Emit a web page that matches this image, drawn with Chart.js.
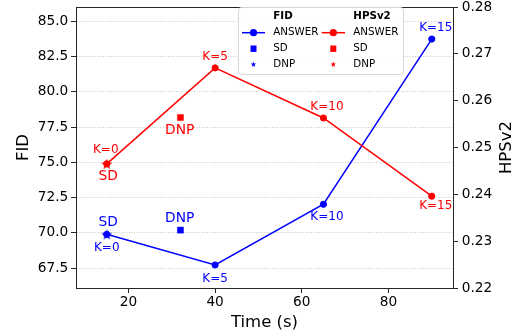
<!DOCTYPE html>
<html><head><meta charset="utf-8">
<script src="https://cdn.jsdelivr.net/npm/chart.js@4/dist/chart.umd.min.js"></script>
<style>html,body{margin:0;padding:0;background:#fff}</style>
</head><body>
<canvas id="c" width="526" height="336" style="width:526px;height:336px;display:block"></canvas>
<script>
// ---- data ----
const times = [15, 40, 65, 90];
const kLabels = ['K=0', 'K=5', 'K=10', 'K=15'];
const fidAnswer = [69.9, 67.73, 72.03, 83.73];
const hpsAnswer = [0.2465, 0.2670, 0.2563, 0.2396];
const sdTime = 15;
const fidSD = 69.9;
const hpsSD = 0.2465;
const dnpTime = 32;
const fidDNP = 70.2;
const hpsDNP = 0.2564;
const xTicks = [20, 40, 60, 80];
const fidTicks = [67.5, 70, 72.5, 75, 77.5, 80, 82.5, 85];
const hpsTicks = [0.22, 0.23, 0.24, 0.25, 0.26, 0.27, 0.28];
const legendHeaders = ['FID', 'HPSv2'];
const legendLabels = ['ANSWER', 'SD', 'DNP'];
const xTitle = 'Time (s)';
const yTitle = 'FID';
const y1Title = 'HPSv2';

// ---- styles ----
const FONT = 'DejaVu Sans';
const BLUE = '#0000ff', RED = '#ff0000';
const SPINE = '#262626';

function drawStar(g, cx, cy, R, color) {
  g.fillStyle = color; g.beginPath();
  for (let i = 0; i < 10; i++) {
    const r = i % 2 ? R * 0.382 : R;
    const a = -Math.PI / 2 + i * Math.PI / 5;
    g.lineTo(cx + r * Math.cos(a), cy + r * Math.sin(a));
  }
  g.closePath(); g.fill();
}
function starCanvas(R, color) {
  const s = Math.ceil(2 * R + 2);
  const c = document.createElement('canvas');
  c.width = s; c.height = s;
  drawStar(c.getContext('2d'), s / 2, s / 2 + R * 0.1, R, color);
  return c;
}

const pts = (xs, ys) => ys.map((v, i) => ({x: xs[i], y: v}));

const annot = {
  fid: {color: BLUE, dx: [0, 0, 3.5, 4], dy: [14, 13.7, 13, -11], sd: [1.3, -12.3], dnp: [-0.7, -11.7]},
  hps: {color: RED, dx: [-1, 0, 3.5, 4], dy: [-14, -11, -11, 10], sd: [1.3, 12.7], dnp: [-0.7, 13.3]}
};

const overlay = {
  id: 'overlay',
  afterDatasetsDraw(chart) {
    const g = chart.ctx, xs = chart.scales.x;
    g.save();
    g.textAlign = 'center'; g.textBaseline = 'middle';
    [['fid', chart.scales.y, fidAnswer, fidSD, fidDNP], ['hps', chart.scales.y1, hpsAnswer, hpsSD, hpsDNP]].forEach(([k, ys, vals, sd, dnp]) => {
      const st = annot[k];
      g.fillStyle = st.color;
      g.font = '12px "' + FONT + '"';
      vals.forEach((v, i) => {
        g.fillText(kLabels[i], xs.getPixelForValue(times[i]) + st.dx[i], ys.getPixelForValue(v) + st.dy[i]);
      });
      g.font = '13.8px "' + FONT + '"';
      g.fillText(legendLabels[1], xs.getPixelForValue(sdTime) + st.sd[0], ys.getPixelForValue(sd) + st.sd[1]);
      g.fillText(legendLabels[2], xs.getPixelForValue(dnpTime) + st.dnp[0], ys.getPixelForValue(dnp) + st.dnp[1]);
    });
    g.restore();
  },
  afterDraw(chart) {
    const g = chart.ctx, a = chart.chartArea;
    g.save();
    // top spine
    g.strokeStyle = SPINE; g.lineWidth = 1;
    g.beginPath(); g.moveTo(a.left, Math.round(a.top) + 0.5); g.lineTo(a.right, Math.round(a.top) + 0.5); g.stroke();
    // right axis title (bottom-to-top)
    g.fillStyle = '#000'; g.font = '16.5px "' + FONT + '"';
    g.textAlign = 'center'; g.textBaseline = 'middle';
    g.translate(507, (a.top + a.bottom) / 2); g.rotate(-Math.PI / 2);
    g.fillText(y1Title, 0, 0);
    g.restore();
    // legend
    g.save();
    const bx = 238.5, by = 7.5, bw = 165, bh = 67, r = 3;
    g.beginPath();
    g.moveTo(bx + r, by); g.lineTo(bx + bw - r, by); g.quadraticCurveTo(bx + bw, by, bx + bw, by + r);
    g.lineTo(bx + bw, by + bh - r); g.quadraticCurveTo(bx + bw, by + bh, bx + bw - r, by + bh);
    g.lineTo(bx + r, by + bh); g.quadraticCurveTo(bx, by + bh, bx, by + bh - r);
    g.lineTo(bx, by + r); g.quadraticCurveTo(bx, by, bx + r, by); g.closePath();
    g.fillStyle = 'rgba(255,255,255,0.85)'; g.fill();
    g.strokeStyle = '#d6d6d6'; g.lineWidth = 1; g.stroke();
    const cols = [{h0: 242, h1: 265, m: 253.5, t: 273.3, color: BLUE}, {h0: 321.7, h1: 345, m: 333.3, t: 353.3, color: RED}];
    const rows = [32.7, 48.7, 64.2];
    g.textBaseline = 'middle'; g.textAlign = 'left';
    cols.forEach((c, ci) => {
      g.fillStyle = '#000';
      g.font = 'bold 10.3px "' + FONT + '"';
      g.fillText(legendHeaders[ci], c.t, 16.5);
      g.font = '10.3px "' + FONT + '"';
      legendLabels.forEach((lab, ri) => { g.fillStyle = '#000'; g.fillText(lab, c.t, rows[ri]); });
      // ANSWER handle
      g.strokeStyle = c.color; g.lineWidth = 1.5;
      g.beginPath(); g.moveTo(c.h0, rows[0]); g.lineTo(c.h1, rows[0]); g.stroke();
      g.fillStyle = c.color;
      g.beginPath(); g.arc(c.m, rows[0], 3.6, 0, Math.PI * 2); g.fill();
      // SD square
      g.fillRect(c.m - 3, rows[1] - 3.2, 6, 6.4);
      // DNP star
      drawStar(g, c.m, rows[2] + 0.3, 3, c.color);
    });
    g.restore();
  }
};

const tickFont = {family: FONT, size: 13.7};
const ctx = document.getElementById('c').getContext('2d');
new Chart(ctx, {
  type: 'line',
  data: {
    datasets: [
      {data: pts([sdTime], [fidSD]), yAxisID: 'y', showLine: false, pointStyle: starCanvas(5.9, BLUE), pointRadius: 5},
      {data: pts([sdTime], [hpsSD]), yAxisID: 'y1', showLine: false, pointStyle: starCanvas(5.9, RED), pointRadius: 5},
      {data: pts([dnpTime], [fidDNP]), yAxisID: 'y', showLine: false, pointStyle: 'rect', pointRadius: 4.3, pointBorderWidth: 0.5, backgroundColor: BLUE, borderColor: BLUE},
      {data: pts([dnpTime], [hpsDNP]), yAxisID: 'y1', showLine: false, pointStyle: 'rect', pointRadius: 4.3, pointBorderWidth: 0.5, backgroundColor: RED, borderColor: RED},
      {data: pts(times, hpsAnswer), yAxisID: 'y1', borderColor: RED, backgroundColor: RED, borderWidth: 1.5, tension: 0, fill: false, pointRadius: 3.1, pointBorderWidth: 1},
      {data: pts(times, fidAnswer), yAxisID: 'y', borderColor: BLUE, backgroundColor: BLUE, borderWidth: 1.5, tension: 0, fill: false, pointRadius: 3.1, pointBorderWidth: 1}
    ]
  },
  options: {
    responsive: false,
    animation: false,
    devicePixelRatio: 1,
    layout: {padding: {top: 7, left: 0, right: 0, bottom: 0}},
    plugins: {legend: {display: false}, tooltip: {enabled: false}},
    scales: {
      x: {
        type: 'linear', min: 7.9, max: 94.9,
        afterBuildTicks: s => { s.ticks = xTicks.map(v => ({value: v})); },
        afterFit: s => { s.height = 48; s.paddingLeft = 0; s.paddingRight = 0; },
        grid: {drawOnChartArea: false, tickLength: 5, tickColor: SPINE, tickWidth: 1},
        border: {color: SPINE, width: 1},
        ticks: {color: '#000', font: tickFont, padding: 1.5, maxRotation: 0, autoSkip: false, callback: v => String(v)},
        title: {display: true, text: xTitle, color: '#000', font: {family: FONT, size: 16.5}, padding: {top: 0, bottom: 3}}
      },
      y: {
        type: 'linear', position: 'left', min: 66.1, max: 86.0,
        afterBuildTicks: s => { s.ticks = fidTicks.map(v => ({value: v})); },
        afterFit: s => { s.width = 76; s.paddingTop = 0; s.paddingBottom = 0; },
        grid: {color: '#b8b8b8', lineWidth: 0.8, tickLength: 5, tickColor: SPINE, tickWidth: 1, tickBorderDash: []},
        border: {color: SPINE, width: 1, dash: [1, 1.6]},
        ticks: {color: '#000', font: tickFont, padding: 2.7, autoSkip: false, callback: v => v.toFixed(1)},
        title: {display: true, text: yTitle, color: '#000', font: {family: FONT, size: 16.5}, padding: {top: 13.4, bottom: 0}}
      },
      y1: {
        type: 'linear', position: 'right', min: 0.22, max: 0.28,
        afterBuildTicks: s => { s.ticks = hpsTicks.map(v => ({value: v})); },
        afterFit: s => { s.width = 73; s.paddingTop = 0; s.paddingBottom = 0; },
        grid: {drawOnChartArea: false, tickLength: 5, tickColor: SPINE, tickWidth: 1},
        border: {color: SPINE, width: 1},
        ticks: {color: '#000', font: tickFont, padding: 3.7, autoSkip: false, callback: v => v.toFixed(2)},
        title: {display: false}
      }
    }
  },
  plugins: [overlay]
});
</script>
</body></html>
